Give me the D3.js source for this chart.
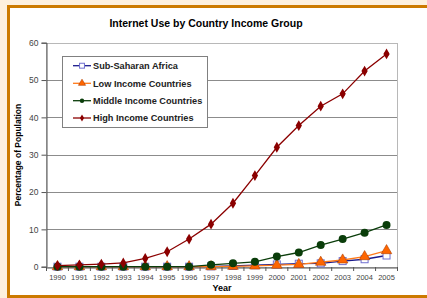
<!DOCTYPE html>
<html><head><meta charset="utf-8">
<script src="https://cdn.jsdelivr.net/npm/d3@7/dist/d3.min.js"></script>
<style>
html,body{margin:0;padding:0;background:#fdf0de;}
svg{display:block;font-family:"Liberation Sans",Arial,sans-serif;}
</style></head><body>
<svg id="c" width="427" height="298"></svg>
<script>
const years = ["1990","1991","1992","1993","1994","1995","1996","1997","1998","1999","2000","2001","2002","2003","2004","2005"];
const subSaharan = [0,0,0,0,0,0,0,0.1,0.2,0.4,0.6,0.8,0.9,1.5,2.0,3.0];
const lowIncome  = [0,0,0,0,0,0,0,0,0.1,0.2,0.4,0.6,1.2,1.8,2.7,4.3];
const middleIncome = [0,0,0,0,0,0,0,0.5,0.9,1.3,2.7,3.8,5.8,7.4,9.1,11.2];
const highIncome = [0.3,0.5,0.7,1.0,2.2,4.0,7.4,11.4,17.0,24.4,32.0,37.8,43.0,46.3,52.4,57.0];
const yTicks = [0,10,20,30,40,50,60];
const seriesNames = ["Sub-Saharan Africa","Low Income Countries","Middle Income Countries","High Income Countries"];

const svg = d3.select("#c");
svg.append("rect").attr("x",8.5).attr("y",6.5).attr("width",430).attr("height",290)
  .attr("fill","#fff").attr("stroke","#cc7a00").attr("stroke-width",3);

const L=46.5, R=397.5, T=42.7, B=266.7;
const x = d3.scaleBand().domain(years).range([L,R]);
const y = d3.scaleLinear().domain([0,60]).range([B,T]);

svg.append("g").selectAll("line").data(yTicks.filter(d=>d>0)).join("line")
  .attr("x1",L).attr("x2",R).attr("y1",d=>Math.round(y(d))+0.5).attr("y2",d=>Math.round(y(d))+0.5)
  .attr("stroke","#8c8c8c").attr("stroke-width",1);
svg.append("rect").attr("x",L).attr("y",Math.round(T)+0.5).attr("width",R-L).attr("height",Math.round(B)-Math.round(T))
  .attr("fill","none").attr("stroke","#b8b8b8");

const ya = svg.append("g").attr("transform",`translate(${L},0)`)
  .call(d3.axisLeft(y).tickValues(yTicks).tickSize(5).tickPadding(3));
ya.select(".domain").attr("stroke","#555");
ya.selectAll(".tick line").attr("stroke","#555");
ya.selectAll("text").attr("font-size","8.5px").attr("fill","#444").attr("font-family","Liberation Sans, Arial, sans-serif");

const xa = svg.append("g").attr("transform",`translate(0,${Math.round(B)+0.5})`)
  .call(d3.axisBottom(x).tickSize(0).tickPadding(7));
xa.select(".domain").attr("stroke","#555");
xa.selectAll("text").attr("font-size","7.5px").attr("fill","#444").attr("font-family","Liberation Sans, Arial, sans-serif");
svg.append("g").selectAll("line").data(d3.range(years.length+1)).join("line")
  .attr("x1",i=>L+i*x.step()).attr("x2",i=>L+i*x.step())
  .attr("y1",Math.round(B)).attr("y2",Math.round(B)+4).attr("stroke","#555");

const cx = d=>x(d)+x.bandwidth()/2;
const series = [
  {name:seriesNames[0], vals:subSaharan, line:"#1a1a8c", type:"square"},
  {name:seriesNames[1], vals:lowIncome, line:"#ff7a1a", type:"triangle"},
  {name:seriesNames[2], vals:middleIncome, line:"#0a3d0a", type:"circle"},
  {name:seriesNames[3], vals:highIncome, line:"#8b0000", type:"diamond"}
];
const line = d3.line().x((d,i)=>cx(years[i])).y(d=>y(d));

function marker(g, type, px, py, small){
  const s = small?0.7:1;
  if(type==="square"){
    g.append("rect").attr("x",px-3.5*s).attr("y",py-3.5*s).attr("width",7*s).attr("height",7*s)
      .attr("fill","#fff").attr("stroke","#7070d0").attr("stroke-width",1);
  } else if(type==="triangle"){
    g.append("path").attr("d",d3.symbol().type(d3.symbolTriangle).size(small?22:48)())
      .attr("transform",`translate(${px},${py})`).attr("fill","#ff6600").attr("stroke","#b04000").attr("stroke-width",0.6);
  } else if(type==="circle"){
    g.append("circle").attr("cx",px).attr("cy",py).attr("r",small?2.2:4).attr("fill","#0a3d0a");
  } else {
    g.append("path").attr("d",d3.symbol().type(d3.symbolDiamond).size(small?14:34)())
      .attr("transform",`translate(${px},${py})`).attr("fill","#8b0000");
    g.append("path").attr("d",d3.symbol().type(d3.symbolSquare).size(small?6:14)())
      .attr("transform",`translate(${px},${py})`).attr("fill","#8b0000");
  }
}

series.forEach(s=>{
  const g = svg.append("g");
  g.append("path").datum(s.vals).attr("d",line).attr("fill","none").attr("stroke",s.line).attr("stroke-width",1.3);
  s.vals.forEach((v,i)=>marker(g,s.type,cx(years[i]),y(v),false));
});

const lg = svg.append("g");
lg.append("rect").attr("x",62.5).attr("y",56.5).attr("width",145).attr("height",71)
  .attr("fill","#fff").attr("stroke","#808080");
const rowsY=[65.7,83.3,100.7,118];
series.forEach((s,i)=>{
  const yy=rowsY[i];
  lg.append("line").attr("x1",73).attr("x2",91).attr("y1",yy).attr("y2",yy).attr("stroke",s.line).attr("stroke-width",1.3);
  marker(lg,s.type,82,yy,true);
  lg.append("text").attr("x",93).attr("y",yy+3.3).attr("font-size","9.2px").attr("font-weight","bold")
    .attr("fill","#222").text(s.name);
});

svg.append("text").attr("x",206).attr("y",27).attr("text-anchor","middle").attr("font-size","10.5px")
  .attr("font-weight","bold").attr("fill","#000").text("Internet Use by Country Income Group");
svg.append("text").attr("transform","translate(21,155) rotate(-90)").attr("text-anchor","middle")
  .attr("font-size","8.5px").attr("font-weight","bold").attr("fill","#000").text("Percentage of Population");
svg.append("text").attr("x",222).attr("y",291).attr("text-anchor","middle").attr("font-size","9px")
  .attr("font-weight","bold").attr("fill","#000").text("Year");
</script></body></html>
